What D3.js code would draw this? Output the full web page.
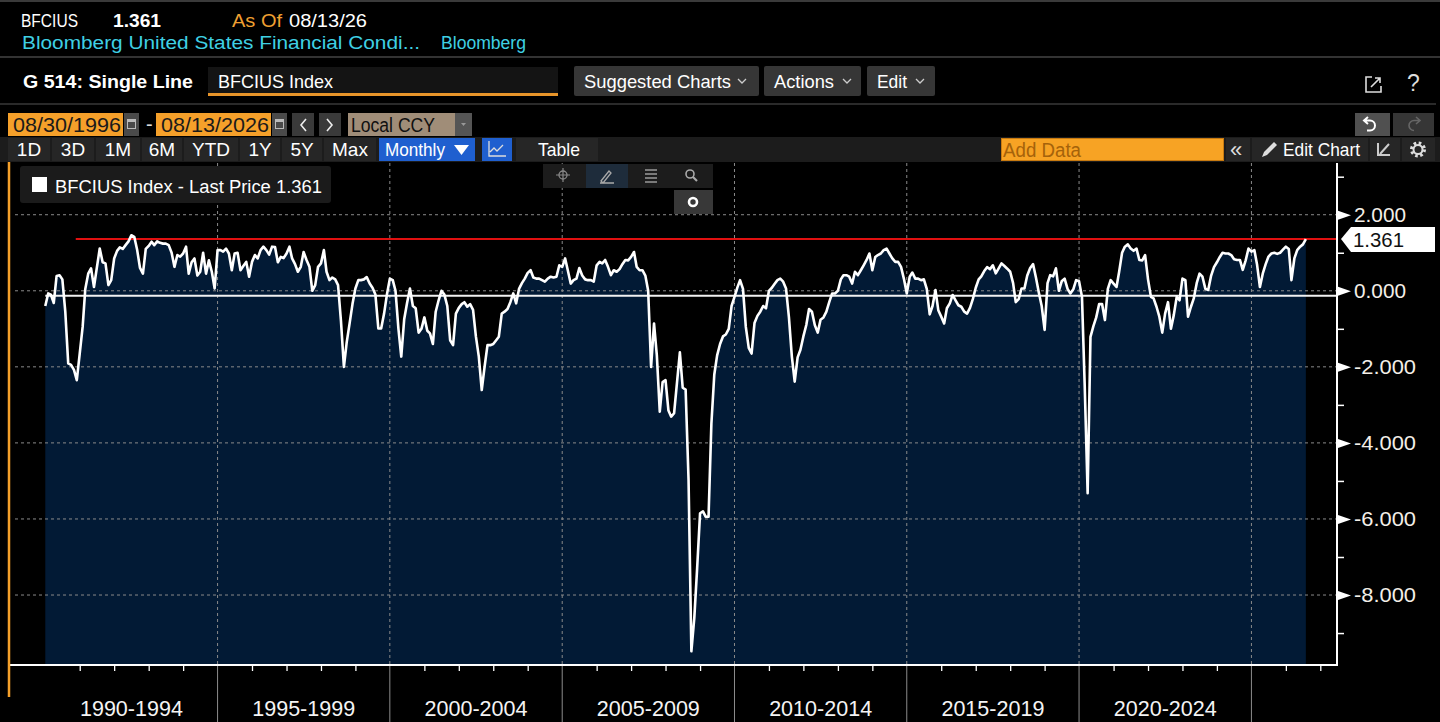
<!DOCTYPE html>
<html>
<head>
<meta charset="utf-8">
<script src="https://cdn.jsdelivr.net/npm/d3@7"></script>
<style>
  body { margin: 0; background: #000; overflow: hidden; }
</style>
</head>
<body>
<svg id="chart" width="1440" height="722"></svg>
<script>
// ---- data (monthly, BFCIUS) ----
var firstMonth = new Date(1990, 0, 1);
var bfciMonthly = [
  // 1990
  -0.40, -0.07, -0.10, -0.32, 0.39, 0.41, 0.30, -0.55, -1.91, -1.95, -2.08, -2.35,
  // 1991
  -1.65, -0.95, 0.05, 0.45, 0.59, 0.10, 0.60, 1.11, 0.75, 0.72, 0.15, 0.28,
  // 1992
  0.85, 1.05, 1.14, 1.10, 1.20, 1.30, 1.46, 1.42, 1.07, 0.60, 0.45, 1.10,
  // 1993
  1.18, 1.29, 1.20, 1.30, 1.26, 1.24, 1.24, 1.20, 1.00, 0.63, 0.94, 0.90,
  // 1994
  0.98, 1.16, 0.45, 0.75, 0.85, 0.40, 0.50, 1.00, 0.45, 0.80, 0.50, 0.06,
  // 1995
  1.07, 1.07, 1.03, 1.11, 0.98, 0.54, 0.98, 1.00, 0.54, 0.65, 0.76, 0.37,
  // 1996
  0.76, 0.94, 0.85, 1.07, 1.16, 1.07, 0.95, 1.16, 1.15, 0.75, 0.89, 0.86,
  // 1997
  0.98, 1.16, 0.85, 0.70, 0.50, 0.63, 1.02, 0.81, 0.63, 0.00, 0.15, 0.63,
  // 1998
  0.72, 1.07, 0.50, 0.28, 0.35, 0.30, 0.15, -0.80, -2.00, -1.35, -0.85, -0.35,
  // 1999
  0.06, 0.28, 0.28, 0.30, 0.36, 0.19, 0.08, -0.10, -0.99, -0.99, -0.60, -0.10,
  // 2000
  0.32, 0.28, 0.00, -1.00, -1.73, -0.75, -0.33, 0.06, -0.40, -0.46, -1.10, -1.00,
  // 2001
  -0.70, -1.05, -1.12, -1.40, -0.55, -0.25, 0.00, -0.10, -0.40, -1.30, -1.43, -0.60,
  // 2002
  -0.45, -0.35, -0.30, -0.42, -0.35, -0.50, -1.20, -1.73, -2.61, -2.00, -1.43, -1.43,
  // 2003
  -1.40, -1.30, -1.21, -0.60, -0.55, -0.48, -0.30, -0.07, -0.33, 0.05, 0.20, 0.32,
  // 2004
  0.47, 0.54, 0.35, 0.32, 0.32, 0.28, 0.24, 0.32, 0.37, 0.35, 0.37, 0.67,
  // 2005
  0.63, 0.85, 0.54, 0.19, 0.28, 0.32, 0.60, 0.40, 0.30, 0.28, 0.28, 0.24,
  // 2006
  0.67, 0.76, 0.72, 0.81, 0.63, 0.41, 0.54, 0.50, 0.57, 0.70, 0.81, 0.80,
  // 2007
  0.89, 1.02, 0.63, 0.54, 0.54, 0.40, 0.00, -2.00, -0.86, -1.70, -3.18, -2.40,
  // 2008
  -2.35, -3.15, -3.31, -3.22, -2.43, -1.62, -2.55, -2.60, -4.97, -9.48, -8.60, -7.30,
  // 2009
  -5.85, -5.80, -5.94, -5.94, -3.50, -2.20, -1.70, -1.40, -1.20, -1.15, -1.00, -0.40,
  // 2010
  -0.16, 0.09, 0.28, 0.05, -0.95, -1.50, -1.65, -0.85, -0.66, -0.55, -0.40, -0.46,
  // 2011
  0.00, 0.08, 0.18, 0.28, 0.32, 0.24, 0.06, -0.70, -1.73, -2.39, -1.75, -1.55,
  // 2012
  -1.20, -0.90, -0.48, -0.55, -0.90, -1.10, -0.76, -0.70, -0.55, -0.30, -0.07, -0.07,
  // 2013
  0.00, 0.30, 0.41, 0.41, 0.37, 0.19, 0.50, 0.41, 0.54, 0.67, 0.81, 0.98,
  // 2014
  0.54, 0.89, 0.94, 0.98, 1.07, 1.11, 0.98, 0.85, 0.76, 0.76, 0.63, 0.32,
  // 2015
  -0.07, 0.37, 0.48, 0.32, 0.32, 0.28, 0.30, 0.05, -0.62, -0.40, 0.02, -0.51,
  // 2016
  -0.68, -0.86, -0.46, -0.33, -0.11, -0.25, -0.38, -0.42, -0.55, -0.60, -0.45, -0.22,
  // 2017
  0.08, 0.30, 0.38, 0.52, 0.62, 0.57, 0.67, 0.46, 0.59, 0.72, 0.65, 0.58,
  // 2018
  0.50, 0.20, -0.30, -0.22, 0.06, 0.06, 0.40, 0.60, 0.70, 0.35, -0.05, -0.40,
  // 2019
  -1.03, 0.20, 0.41, 0.38, 0.59, 0.00, 0.25, 0.32, 0.05, -0.07, 0.04, 0.28,
  // 2020
  0.25, -0.16, -2.50, -5.32, -1.21, -0.93, -0.70, -0.35, -0.35, -0.77, 0.05, 0.28,
  // 2021
  0.19, 0.10, 0.50, 1.00, 1.16, 1.22, 1.11, 1.05, 1.11, 0.81, 0.80, 0.94,
  // 2022
  0.30, -0.16, -0.20, -0.42, -0.68, -1.10, -0.60, -0.30, -1.00, -0.64, -0.16, -0.25,
  // 2023
  0.32, 0.28, -0.68, -0.42, -0.20, 0.20, 0.45, 0.37, 0.05, 0.02, 0.40, 0.62,
  // 2024
  0.75, 0.89, 1.00, 0.98, 0.98, 0.94, 0.83, 0.81, 0.81, 0.55, 0.80, 1.11,
  // 2025
  1.03, 1.07, 0.70, 0.10, 0.45, 0.70, 0.90, 0.98, 1.00, 0.97, 1.00, 1.08,
  // 2026
  1.16, 1.10, 0.28, 0.85, 1.07, 1.16, 1.22, 1.361
];
var lastPrice = 1.361;
var avgLevel = -0.13;
var priceLineStart = new Date(1990, 10, 20);
var yTicks = [2, 0, -2, -4, -6, -8];
var yMinorTicks = [3, 1, -1, -3, -5, -7, -9];
var periodStarts = [1990, 1995, 2000, 2005, 2010, 2015, 2020];
var periodLabels = ["1990-1994", "1995-1999", "2000-2004", "2005-2009", "2010-2014", "2015-2019", "2020-2024"];
var gridYears = [1995, 2000, 2005, 2010, 2015, 2020, 2025];
var rangeButtons = ["1D", "3D", "1M", "6M", "YTD", "1Y", "5Y", "Max"];

// ---- setup ----
var narrow = '"Liberation Sans Narrow", "Arial Narrow", "Liberation Sans", sans-serif';
var orange = "#f5a02a";
var p = {left: 10, right: 1337, top: 163, bottom: 665};

var svg = d3.select("#chart");
svg.append("rect").attr("width", 1440).attr("height", 722).attr("fill", "#000");

function label(g, x, y, str, o) {
  o = o || {};
  var t = g.append("text").attr("x", x).attr("y", y).text(str)
    .attr("font-size", o.size || 17)
    .attr("fill", o.fill || "#fff")
    .attr("font-weight", o.weight || "normal")
    .attr("font-family", o.family || narrow)
    .attr("text-anchor", o.anchor || "start");
  if (o.width) t.attr("textLength", o.width).attr("lengthAdjust", "spacingAndGlyphs");
  return t;
}
function box(g, x, y, w, h, fill, r) {
  return g.append("rect").attr("x", x).attr("y", y).attr("width", w).attr("height", h)
    .attr("fill", fill).attr("rx", r || 0);
}
function chevron(g, cx, cy) {
  g.append("path").attr("d", "M" + (cx - 4) + "," + (cy - 2) + "l4,4l4,-4")
    .attr("fill", "none").attr("stroke", "#ccc").attr("stroke-width", 1.3);
}

// ---- header chrome ----
var hdr = svg.append("g");
hdr.append("rect").attr("width", 1440).attr("height", 2).attr("fill", "#3a3a3a");
label(hdr, 21, 27, "BFCIUS", {size: 18, width: 57});
label(hdr, 113, 27, "1.361", {size: 18, weight: "bold", width: 48});
label(hdr, 232, 27, "As Of", {size: 18, fill: "#f0a032", width: 50});
label(hdr, 289, 27, "08/13/26", {size: 18, width: 78});
label(hdr, 22, 49, "Bloomberg United States Financial Condi...", {size: 18, fill: "#3fd0e4", width: 398});
label(hdr, 441, 49, "Bloomberg", {size: 18, fill: "#3fd0e4", width: 85});
hdr.append("rect").attr("y", 56).attr("width", 1440).attr("height", 2).attr("fill", "#333");

label(hdr, 23, 88, "G 514: Single Line", {size: 19, weight: "bold", width: 170});
box(hdr, 208, 67, 350, 29, "#141414");
box(hdr, 208, 93, 350, 3, "#e8952a");
label(hdr, 218, 88, "BFCIUS Index", {size: 19, width: 115});

box(hdr, 574, 66, 185, 30, "#363636", 2);
label(hdr, 584, 88, "Suggested Charts", {size: 19, width: 147});
chevron(hdr, 742, 81);
box(hdr, 764, 66, 97, 30, "#363636", 2);
label(hdr, 774, 88, "Actions", {size: 19, width: 60});
chevron(hdr, 847, 81);
box(hdr, 867, 66, 68, 30, "#363636", 2);
label(hdr, 877, 88, "Edit", {size: 19, width: 30});
chevron(hdr, 920, 81);

// share + help icons
hdr.append("path").attr("d", "M1372,77 h-6 v15 h15 v-6")
  .attr("fill", "none").attr("stroke", "#ddd").attr("stroke-width", 1.6);
hdr.append("path").attr("d", "M1371,87 l9,-9 m-5,0 h5 v5")
  .attr("fill", "none").attr("stroke", "#ddd").attr("stroke-width", 1.6);
label(hdr, 1407, 91, "?", {size: 23, fill: "#ddd"});
hdr.append("rect").attr("y", 103).attr("width", 1436).attr("height", 2).attr("fill", "#2a2a2a");

// date row
function calIcon(g, x) {
  box(g, x, 113, 15, 23, "#4a4a4a");
  box(g, x + 3, 119, 9, 10, "#bbb");
  box(g, x + 4, 122, 7, 6, "#4a4a4a");
}
box(hdr, 8, 113, 115, 23, orange);
label(hdr, 13, 132, "08/30/1996", {size: 21, fill: "#1a1a1a", width: 108});
calIcon(hdr, 124);
label(hdr, 146, 131, "-", {size: 20, fill: "#ddd"});
box(hdr, 156, 113, 115, 23, orange);
label(hdr, 161, 132, "08/13/2026", {size: 21, fill: "#1a1a1a", width: 108});
calIcon(hdr, 272);
box(hdr, 292, 113, 22, 23, "#3a3a3a");
hdr.append("path").attr("d", "M306,119 l-5,6 l5,6").attr("fill", "none").attr("stroke", "#eee").attr("stroke-width", 1.6);
box(hdr, 319, 113, 22, 23, "#3a3a3a");
hdr.append("path").attr("d", "M327,119 l5,6 l-5,6").attr("fill", "none").attr("stroke", "#eee").attr("stroke-width", 1.6);
box(hdr, 348, 113, 107, 23, "#a08d78");
label(hdr, 351, 132, "Local CCY", {size: 20, fill: "#111", width: 84});
box(hdr, 455, 113, 17, 23, "#555");
hdr.append("path").attr("d", "M461,123 h5 l-2.5,3 z").attr("fill", "#999");

box(hdr, 1355, 113, 35, 23, "#505050");
hdr.append("path").attr("d", "M1368,117 l-4,3.5 l4,3.5 M1364,120.5 h6 a5,5 0 0 1 0,10 h-3")
  .attr("fill", "none").attr("stroke", "#fff").attr("stroke-width", 2);
box(hdr, 1393, 113, 41, 23, "#363636");
hdr.append("path").attr("d", "M1416,117 l4,3.5 l-4,3.5 M1420,120.5 h-6 a5,5 0 0 0 0,10")
  .attr("fill", "none").attr("stroke", "#666").attr("stroke-width", 1.6);

// button row
box(hdr, 0, 137, 1440, 25, "#1c1c1c");
var btnCells = [[8, 42], [52, 42], [96, 44], [142, 40], [184, 54], [240, 40], [282, 40], [324, 52]];
rangeButtons.forEach(function(b, i) {
  var c = btnCells[i];
  box(hdr, c[0], 138, c[1], 23, "#262626");
  label(hdr, c[0] + c[1] / 2, 156, b, {size: 19, anchor: "middle"});
});
box(hdr, 379, 138, 96, 23, "#1f5fcf");
label(hdr, 385, 156, "Monthly", {size: 19, width: 60});
hdr.append("path").attr("d", "M454,145 h15 l-7.5,10 z").attr("fill", "#fff");
box(hdr, 482, 138, 30, 23, "#1f5fcf");
hdr.append("path").attr("d", "M489,141 v15 h17 M490,152 l4,-4 l3,3 l6,-6")
  .attr("fill", "none").attr("stroke", "#ddd").attr("stroke-width", 1.3);
box(hdr, 516, 138, 82, 23, "#262626");
label(hdr, 538, 156, "Table", {size: 19, width: 42});

box(hdr, 1001, 138, 223, 23, "#f7a324");
hdr.append("rect").attr("x", 1001.5).attr("y", 138.5).attr("width", 222).attr("height", 22)
  .attr("fill", "none").attr("stroke", "#c87a10");
label(hdr, 1003, 157, "Add Data", {size: 20, fill: "#a5620a", width: 78});
box(hdr, 1226, 138, 24, 23, "#262626");
label(hdr, 1230, 157, "\u00ab", {size: 22, fill: "#ddd"});
box(hdr, 1252, 138, 116, 23, "#262626");
hdr.append("path").attr("d", "M1262,157 l2,-5 l10,-10 l3,3 l-10,10 z").attr("fill", "#ddd");
label(hdr, 1283, 156, "Edit Chart", {size: 19, width: 77});
box(hdr, 1370, 138, 30, 23, "#262626");
hdr.append("path").attr("d", "M1378,143 v12 h12 M1380,154 l9,-10")
  .attr("fill", "none").attr("stroke", "#ccc").attr("stroke-width", 2);
box(hdr, 1402, 138, 33, 23, "#262626");
hdr.append("circle").attr("cx", 1418).attr("cy", 149.5).attr("r", 6)
  .attr("fill", "none").attr("stroke", "#ddd").attr("stroke-width", 4).attr("stroke-dasharray", "2.4,2.3");
hdr.append("circle").attr("cx", 1418).attr("cy", 149.5).attr("r", 4.5)
  .attr("fill", "none").attr("stroke", "#ddd").attr("stroke-width", 2);

// ---- scales ----
var x = d3.scaleTime()
  .domain([new Date(1988, 11, 23), new Date(2027, 5, 27)])
  .range([p.left, p.right]);
var y = d3.scaleLinear().domain([-9.84, 3.36]).range([p.bottom, p.top]);

var data = bfciMonthly.map(function(v, i) {
  return {date: d3.timeMonth.offset(firstMonth, i), value: v};
});

// ---- plot ----
var plot = svg.append("g");

plot.append("path").datum(data)
  .attr("d", d3.area().x(function(d) { return x(d.date); }).y0(p.bottom).y1(function(d) { return y(d.value); }))
  .attr("fill", "#021a35");

// grid
plot.selectAll(".hgrid").data(yTicks).enter().append("line")
  .attr("x1", 15).attr("x2", p.right)
  .attr("y1", function(d) { return y(d); }).attr("y2", function(d) { return y(d); })
  .attr("stroke", "#8a8a8a").attr("stroke-width", 1).attr("stroke-dasharray", "3,3");
plot.selectAll(".vgrid").data(gridYears).enter().append("line")
  .attr("x1", function(d) { return x(new Date(d, 0, 1)); }).attr("x2", function(d) { return x(new Date(d, 0, 1)); })
  .attr("y1", p.top).attr("y2", p.bottom)
  .attr("stroke", "#8a8a8a").attr("stroke-width", 1).attr("stroke-dasharray", "3,3");

// average + last price lines
plot.append("line")
  .attr("x1", x(firstMonth)).attr("x2", p.right)
  .attr("y1", y(avgLevel)).attr("y2", y(avgLevel))
  .attr("stroke", "#f2f2f2").attr("stroke-width", 2);
plot.append("line")
  .attr("x1", x(priceLineStart)).attr("x2", p.right)
  .attr("y1", y(lastPrice)).attr("y2", y(lastPrice))
  .attr("stroke", "#e01010").attr("stroke-width", 2);

// series line
plot.append("path").datum(data)
  .attr("d", d3.line().x(function(d) { return x(d.date); }).y(function(d) { return y(d.value); }))
  .attr("fill", "none").attr("stroke", "#fff").attr("stroke-width", 2.6)
  .attr("stroke-linejoin", "round");

// ---- axes ----
var yAxis = svg.append("g").attr("transform", "translate(" + p.right + ",0)")
  .call(d3.axisRight(y).tickValues(yTicks).tickSize(0).tickPadding(17)
    .tickFormat(function(v) { return v.toFixed(3); }));
yAxis.select(".domain").remove();
yAxis.selectAll(".tick text").attr("fill", "#f4efe8").attr("font-size", 21)
  .attr("font-family", narrow).attr("textLength", function(d) { return d < 0 ? 62 : 52; })
  .attr("lengthAdjust", "spacingAndGlyphs");
yAxis.selectAll(".tick").append("path").attr("d", "M1,-4.5 L14,0 L1,4.5 Z").attr("fill", "#fff");

var yMinor = svg.append("g").attr("transform", "translate(" + p.right + ",0)")
  .call(d3.axisRight(y).tickValues(yMinorTicks).tickSize(7).tickFormat(""));
yMinor.select(".domain").remove();
yMinor.selectAll(".tick line").attr("stroke", "#fff").attr("stroke-width", 1.5);

var yearTicks = d3.timeYear.range(new Date(1991, 0, 1), new Date(2028, 0, 1))
  .filter(function(d) { return d.getFullYear() % 5 !== 0; });
var xAxis = svg.append("g").attr("transform", "translate(0," + p.bottom + ")")
  .call(d3.axisBottom(x).tickValues(yearTicks).tickSize(6).tickFormat(""));
xAxis.select(".domain").remove();
xAxis.selectAll(".tick line").attr("stroke", "#fff").attr("stroke-width", 1.3);

svg.selectAll(".sep").data(gridYears).enter().append("line")
  .attr("x1", function(d) { return x(new Date(d, 0, 1)); }).attr("x2", function(d) { return x(new Date(d, 0, 1)); })
  .attr("y1", p.bottom).attr("y2", 722)
  .attr("stroke", "#8c8c8c").attr("stroke-width", 1);

svg.selectAll(".period").data(periodLabels).enter().append("text")
  .attr("x", function(d, i) {
    return (x(new Date(periodStarts[i], 0, 1)) + x(new Date(periodStarts[i] + 5, 0, 1))) / 2;
  })
  .attr("y", 716).attr("text-anchor", "middle")
  .attr("font-family", narrow).attr("font-size", 22).attr("fill", "#f4f4f4")
  .attr("textLength", 103).attr("lengthAdjust", "spacingAndGlyphs")
  .text(function(d) { return d; });

// axis lines
svg.append("line").attr("x1", p.right).attr("x2", p.right).attr("y1", p.top).attr("y2", p.bottom + 1)
  .attr("stroke", "#fff").attr("stroke-width", 2);
svg.append("line").attr("x1", p.left).attr("x2", p.right).attr("y1", p.bottom).attr("y2", p.bottom)
  .attr("stroke", "#fff").attr("stroke-width", 2);
svg.append("line").attr("x1", 9).attr("x2", 9).attr("y1", 162).attr("y2", 697)
  .attr("stroke", orange).attr("stroke-width", 2.5);

// last price tag
var ly = y(lastPrice);
svg.append("path")
  .attr("d", "M1341," + ly + " L1351," + (ly - 12) + " H1435 V" + (ly + 13) + " H1351 Z")
  .attr("fill", "#fff");
label(svg, 1353, ly + 8, d3.format(".3f")(lastPrice), {size: 21, fill: "#111", width: 51});

// ---- legend + chart tools ----
var lg = svg.append("g");
box(lg, 20, 166, 311, 37, "#1b1b1b", 3);
box(lg, 32, 177, 15, 15, "#fff");
label(lg, 55, 193, "BFCIUS Index - Last Price  1.361", {size: 18, width: 267});

box(lg, 543, 164, 170, 24, "#1c1c1c");
box(lg, 586, 164, 42, 24, "#1e2c3b");
lg.append("circle").attr("cx", 563).attr("cy", 175).attr("r", 4).attr("fill", "none").attr("stroke", "#888").attr("stroke-width", 1.3);
lg.append("path").attr("d", "M563,168 v14 M556,175 h14").attr("stroke", "#888").attr("stroke-width", 1.2);
lg.append("path").attr("d", "M600,183 h14 M601,181 l8,-10 l2,2 l-8,10 z").attr("fill", "none").attr("stroke", "#aaa").attr("stroke-width", 1.3);
lg.append("path").attr("d", "M645,170 h12 M645,174 h12 M645,178 h12 M645,182 h12").attr("stroke", "#999").attr("stroke-width", 1.5);
lg.append("circle").attr("cx", 690).attr("cy", 174).attr("r", 4).attr("fill", "none").attr("stroke", "#aaa").attr("stroke-width", 1.6);
lg.append("path").attr("d", "M693,177 l4,4").attr("stroke", "#aaa").attr("stroke-width", 2.2);
box(lg, 674, 190, 39, 24, "#383838");
lg.append("circle").attr("cx", 693).attr("cy", 202).attr("r", 4).attr("fill", "none").attr("stroke", "#fff").attr("stroke-width", 2.6);
</script>
</body>
</html>
